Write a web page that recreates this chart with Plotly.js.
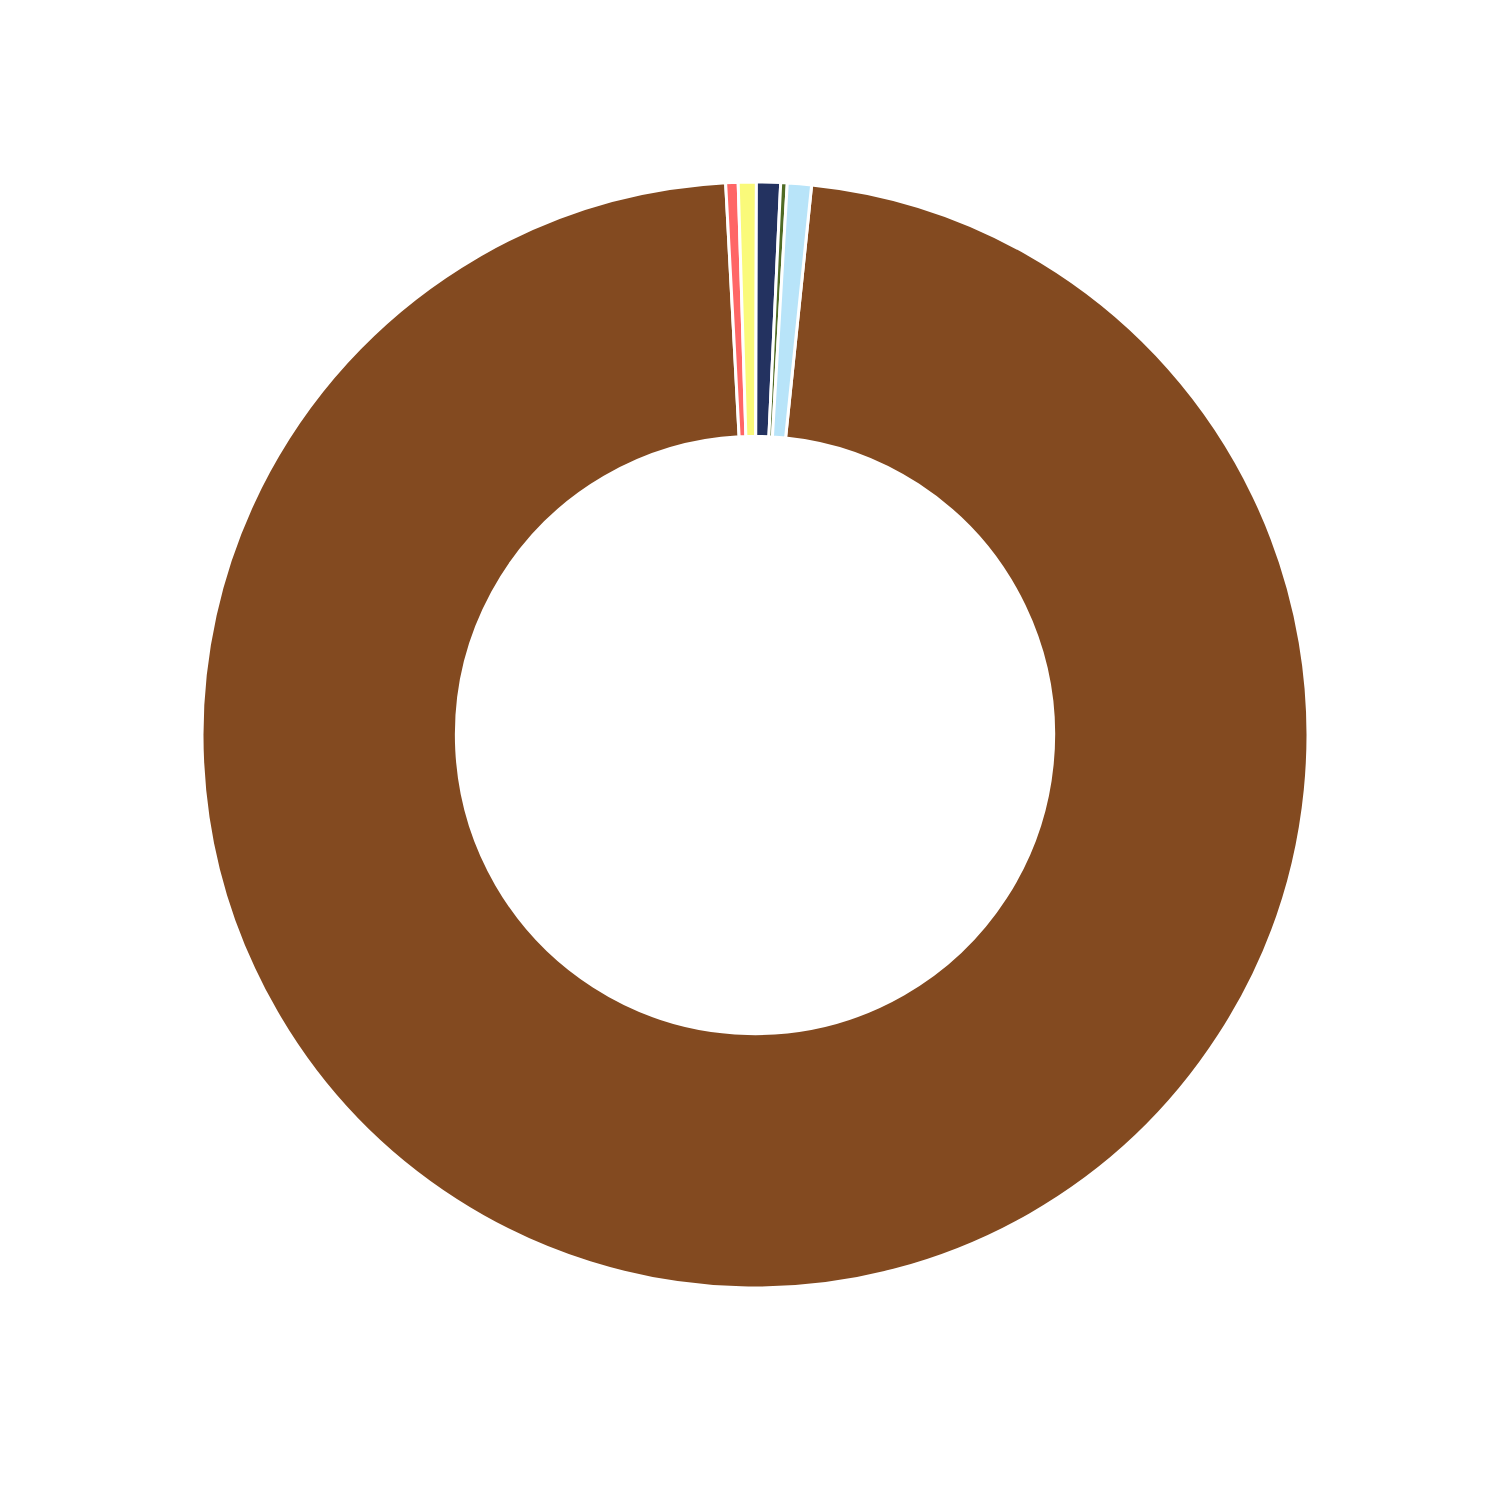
<!DOCTYPE html>
<html>
<head>
<meta charset="utf-8">
<script src="https://cdn.plot.ly/plotly-3.0.1.min.js"></script>
<style>html,body{margin:0;padding:0;background:#fff;}#chart{width:1500px;height:1500px;}</style>
</head>
<body>
<div id="chart"></div>
<script>
const categories = ["Category 1", "Category 2", "Category 3", "Category 4", "Category 5", "Category 6"];
const values = [97.52, 0.361, 0.525, 0.70, 0.19, 0.703];
const colors = ["#834A20", "#FF6666", "#FAFA7A", "#233260", "#4F6B25", "#B8E4F9"];

const trace = {
  type: "pie",
  labels: categories,
  values: values,
  sort: false,
  direction: "clockwise",
  rotation: 5.88,
  hole: 0.54,
  textinfo: "none",
  marker: { colors: colors, line: { color: "#ffffff", width: 3 } },
  showlegend: false
};

const layout = {
  width: 1500,
  height: 1500,
  margin: { l: 202, r: 192, t: 182, b: 212 },
  paper_bgcolor: "#ffffff",
  plot_bgcolor: "#ffffff",
  showlegend: false
};

Plotly.newPlot("chart", [trace], layout, { displayModeBar: false, staticPlot: true });
</script>
</body>
</html>
